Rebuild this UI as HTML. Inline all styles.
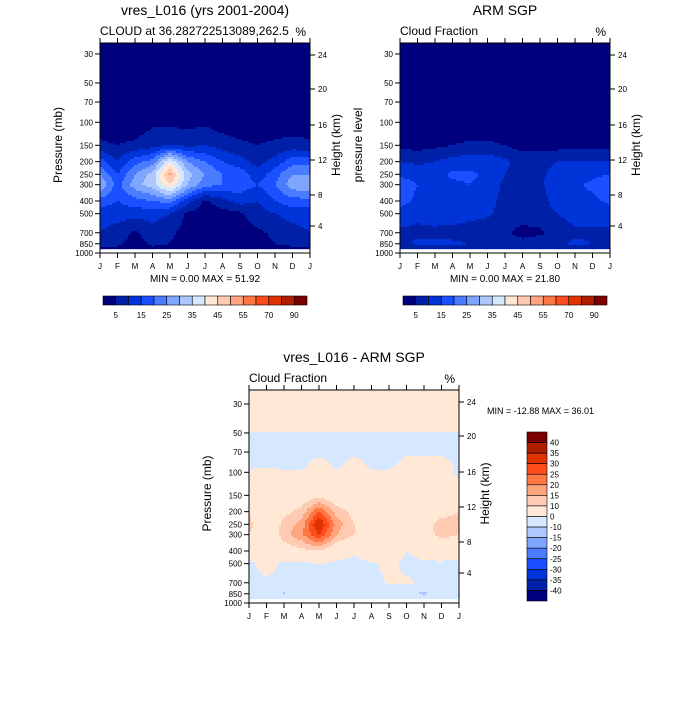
<!DOCTYPE html>
<html><head><meta charset="utf-8"><style>
body{margin:0;background:#fff}
svg text{font-family:"Liberation Sans",sans-serif;fill:#000}
</style></head><body>
<svg id="s" width="700" height="700" viewBox="0 0 700 700" xmlns="http://www.w3.org/2000/svg"></svg>
<script>
const months=['J','F','M','A','M','J','J','A','S','O','N','D','J'];
const presTicks=[30,50,70,100,150,200,250,300,400,500,700,850,1000];
const kmTicks=['24','20','16','12','8','4'];
const kmOffsets=[12,46,82,117,152,183];
const barLabelsH=['5','15','25','35','45','55','70','90'];
const barLabelsV=['40','35','30','25','20','15','10','0','-10','-15','-20','-25','-30','-35','-40'];
const levelsA=[5,10,15,20,25,30,35,40,45,50,55,60,70,80,90];
const levelsD=[-40,-35,-30,-25,-20,-15,-10,0,10,15,20,25,30,35,40];
const colors=['#00007f','#0020a8','#0034d8','#1a50ff','#4a7cff','#7ea6ff','#aec8ff','#d6e8ff','#ffe9d6','#ffcab2','#ffa67e','#ff7744','#ff4c1c','#e03300','#b01e00','#7a0000'];
const presA=[30,50,70,100,150,200,250,300,400,500,700,850,930];
const model=[
[1,1,1,1,1,1,1,1,1,1,1,1,1],
[1,1,1,1,1,1,1,1,1,1,1,1,1],
[1,1,1,1,1,1,1,1,1,1,1,1,1],
[2,2,2,4,4,3,4,2,2,2,2,2,2],
[6,5,6,8,10,9,10,8,6,5,6,7,6],
[18,10,18,22,40,25,20,15,12,8,12,18,18],
[25,15,25,32,52,32,25,20,18,12,18,25,25],
[30,18,28,33,45,30,22,20,18,15,20,28,30],
[18,15,18,20,22,12,4,8,12,10,15,18,18],
[12,12,12,12,10,4,3,3,4,8,10,12,12],
[10,8,4,8,6,3,2,2,3,4,6,8,10],
[6,6,3,6,5,2,1,1,1,3,5,6,6],
[4,4,3,4,3,1,1,1,1,2,3,4,4]];
const arm=[
[1,1,1,1,1,1,1,1,1,1,1,1,1],
[1,1,1,1,1,1,1,1,1,1,1,1,1],
[1,1,1,1,1,1,1,1,1,1,1,1,1],
[1,1,1,1,1,1,1,1,1,1,1,1,1],
[4,3,4,5,6,6,5,3,3,3,3,3,4],
[10,9,10,12,13,13,11,8,8,10,10,10,10],
[14,13,13,16,16,14,10,8,9,12,13,14,15],
[18,15,13,14,15,13,9,8,9,13,14,16,18],
[17,14,12,13,13,12,8,8,8,12,13,14,16],
[13,11,12,13,12,11,8,8,8,10,12,12,13],
[9,9,9,8,7,6,6,3,4,7,9,9,9],
[8,11,11,11,10,9,8,7,8,9,11,10,9],
[5,5,5,5,5,5,5,5,5,5,5,5,5]];
const presD=[20,48,52,70,90,100,150,200,250,300,400,500,700,850,930];
const diff=[
[1,1,1,1,1,1,1,1,1,1,1,1,1],
[1,1,1,1,1,1,1,1,1,1,1,1,1],
[-1,-1,-1,-1,-1,-1,-1,-1,-1,-1,-1,-1,-1],
[-1,-1,-1,-1,-1,-1,-1,-1,-1,-1,-1,-1,-1],
[-1,-1,-1,-1,2,-1,2,-1,-1,2,2,2,-1],
[1,2,1,1,2,1,2,1,1,2,2,2,-1],
[3,2,3,5,8,4,5,3,3,2,3,4,3],
[10,2,8,12,25,13,8,5,5,2,5,8,10],
[12,3,12,17,36,18,10,5,10,4,8,12,12],
[10,3,13,19,30,15,10,8,10,3,7,12,10],
[2,4,6,8,10,4,1,6,6,0,3,4,2],
[-1,2,-1,-1,0,-1,-2,-1,2,-2,-1,-1,-1],
[-1,-1,-1,-2,-1,-1,-2,-3,1,1,-1,-1,-1],
[-2,-4,-11,-2,-4,-5,-5,-5,-4,-7,-12,-6,-3],
[-2,-3,-5,-2,-3,-4,-4,-4,-3,-4,-5,-3,-2]];

const S=document.getElementById('s');const NS='http://www.w3.org/2000/svg';
function el(t,a,p){const e=document.createElementNS(NS,t);for(const k in a)e.setAttribute(k,a[k]);(p||S).appendChild(e);return e;}
function txt(x,y,s,sz,anc,p,rot){const a={x:x,y:y,'font-size':sz,'text-anchor':anc||'start'};if(rot)a.transform='rotate(-90 '+x+' '+y+')';const e=el('text',a,p);e.textContent=s;return e;}
const PX=130.7;
function panel(name,x0,y0,w,h,pres,data,levels,o){
  const g=el('g',{});
  const yOf=p=>y0+h-(Math.log10(1000)-Math.log10(p))*PX;
  const xOf=m=>x0+m*w/12;
  const lp=pres.map(p=>Math.log10(p));
  function val(m,l){let i=0;while(i<lp.length-2&&l>lp[i+1])i++;
    let t=(l-lp[i])/(lp[i+1]-lp[i]);t=Math.max(0,Math.min(1,t));
    const j=Math.min(11,Math.floor(m));const u=m-j;
    const a=data[i][j]*(1-u)+data[i][j+1]*u, b=data[i+1][j]*(1-u)+data[i+1][j+1]*u;return a*(1-t)+b*t;}
  function ci(v){let k=0;while(k<levels.length&&v>=levels[k])k++;return k;}
  const cg=el('g',{},g);
  const step=2,yEnd=yOf(pres[pres.length-1]);
  for(let y=y0;y<Math.min(yEnd,y0+h);y+=step){
    const l=Math.log10(1000)-(y0+h-(y+step/2))/PX;
    let run=-1,rs=x0;
    for(let x=x0;x<=x0+w;x+=step){
      const c=x<x0+w?ci(val((x+step/2-x0)/w*12,l)):-2;
      if(c!==run){if(run>=0){el('rect',{x:rs,y:y,width:x-rs,height:Math.min(step,yEnd-y)+0.3,fill:colors[run]},cg);}run=c;rs=x;}
    }
  }
  el('rect',{x:x0,y:y0,width:w,height:h,fill:'none',stroke:'#000','stroke-width':1},g);
  for(let m=0;m<=12;m++){const x=xOf(m);
    el('line',{x1:x,y1:y0+h,x2:x,y2:y0+h+5,stroke:'#000'},g);
    el('line',{x1:x,y1:y0,x2:x,y2:y0-5,stroke:'#000'},g);
    const t=txt(x,y0+h+16,months[m],8,'middle',g);}
  presTicks.forEach(p=>{const y=yOf(p);el('line',{x1:x0-5,y1:y,x2:x0,y2:y,stroke:'#000'},g);
    const t=txt(x0-7,y+3,String(p),8,'end',g);});
  kmTicks.forEach((k,i)=>{const y=y0+kmOffsets[i];el('line',{x1:x0+w,y1:y,x2:x0+w+5,y2:y,stroke:'#000'},g);
    const t=txt(x0+w+8,y+3,k,8,'start',g);});
  let t=txt(x0+w/2,y0-28,o.title,14,'middle',g);
  t=txt(x0,y0-8,o.sub,12,'start',g);
  t=txt(x0+w-4,y0-7,'%',12,'end',g);
  t=txt(x0-38,y0+h/2-3,o.ylab,12,'middle',g,true);
  t=txt(x0+w+30,y0+h/2-3,'Height (km)',12,'middle',g,true);
}
panel('model-panel',100,43,210,210,presA,model,levelsA,{title:'vres_L016 (yrs 2001-2004)',sub:'CLOUD at 36.282722513089,262.5',ylab:'Pressure (mb)'});
panel('arm-panel',400,43,210,210,presA,arm,levelsA,{title:'ARM SGP',sub:'Cloud Fraction',ylab:'pressure level'});
panel('diff-panel',249,390,210,213,presD,diff,levelsD,{title:'vres_L016 - ARM SGP',sub:'Cloud Fraction',ylab:'Pressure (mb)'});
let t=txt(205,282,'MIN =   0.00 MAX =  51.92',10,'middle');
t=txt(505,282,'MIN =   0.00 MAX =  21.80',10,'middle');
t=txt(487,414,'MIN = -12.88 MAX =  36.01',9,'start');
function hbar(x0,name){const g=el('g',{});
  const bw=204/16;colors.forEach((c,i)=>el('rect',{x:x0+i*bw,y:296,width:bw,height:9,fill:c,stroke:'#000','stroke-width':0.6},g));
  barLabelsH.forEach((s,i)=>{const tt=txt(x0+(2*i+1)*bw,318,s,8,'middle',g);});}
hbar(103,'model-colorbar');hbar(403,'arm-colorbar');
(function(){const g=el('g',{});
  const bh=169/16;colors.slice().reverse().forEach((c,i)=>el('rect',{x:527,y:432+i*bh,width:20,height:bh,fill:c,stroke:'#000','stroke-width':0.6},g));
  barLabelsV.forEach((s,i)=>{const tt=txt(550,432+(i+1)*bh+3,s,8,'start',g);});})();
</script>
</body></html>
